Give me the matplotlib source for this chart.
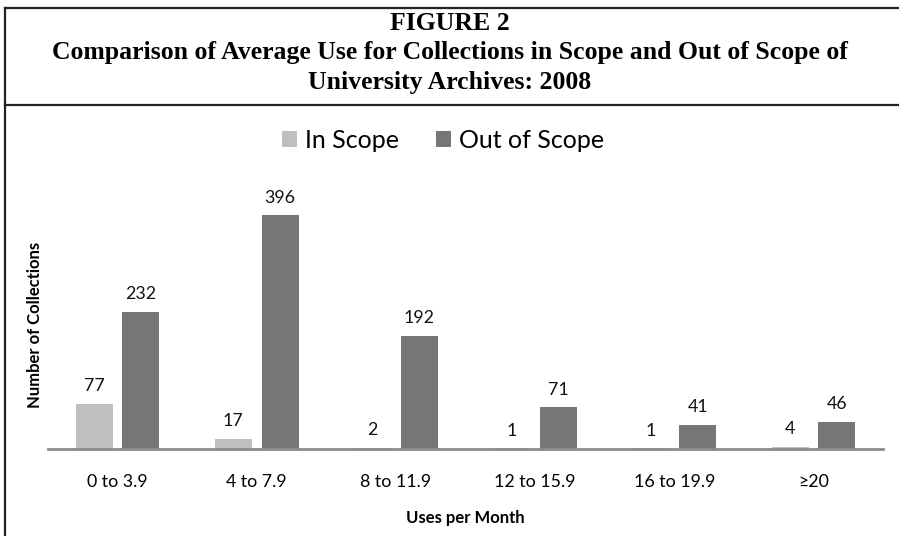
import matplotlib.pyplot as plt
import numpy as np
from matplotlib.lines import Line2D

categories = ['0 to 3.9', '4 to 7.9', '8 to 11.9', '12 to 15.9', '16 to 19.9', '\u226520']
in_scope = [77, 17, 2, 1, 1, 4]
out_scope = [232, 396, 192, 71, 41, 46]

W, H = 899, 536
fig = plt.figure(figsize=(W / 100, H / 100), dpi=100)

sans = ['Lato', 'DejaVu Sans']
serif = ['Liberation Serif', 'DejaVu Serif']

# frame lines of the figure box
lc = '#222222'
fig.add_artist(Line2D([5 / W, 5 / W], [0, 1 - 8 / H], color=lc, lw=1.6))
fig.add_artist(Line2D([5 / W, 1], [1 - 8 / H, 1 - 8 / H], color=lc, lw=1.6))
fig.add_artist(Line2D([5 / W, 1], [1 - 105 / H, 1 - 105 / H], color=lc, lw=1.6))

# title
tkw = dict(ha='center', va='center', fontsize=18.5, fontweight='bold', family=serif)
fig.text(0.5, 1 - 23 / H, 'FIGURE 2', **tkw)
fig.text(0.5, 1 - 53 / H, 'Comparison of Average Use for Collections in Scope and Out of Scope of', **tkw)
fig.text(0.5, 1 - 83 / H, 'University Archives: 2008', **tkw)

ax_left, ax_right, ax_base = 48, 883, 449
ymax = 450
px_per_unit = 234 / 396
ax_h = ymax * px_per_unit
ax = fig.add_axes([ax_left / W, (H - ax_base) / H, (ax_right - ax_left) / W, ax_h / H])

x = np.arange(len(categories))
bw = 0.266
off = 0.168
c_in, c_out = '#bfbfbf', '#767676'
b1 = ax.bar(x - off, in_scope, bw, color=c_in, label='In Scope')
b2 = ax.bar(x + off, out_scope, bw, color=c_out, label='Out of Scope')

for bars, vals in ((b1, in_scope), (b2, out_scope)):
    for r, v in zip(bars, vals):
        ax.text(r.get_x() + r.get_width() / 2, v + 16, str(v), ha='center', va='bottom',
                fontsize=12.8, family=sans, color='#111111')

ax.set_xlim(-0.5, len(categories) - 0.5)
ax.set_ylim(0, ymax)
ax.set_xticks(x)
ax.set_xticklabels(categories, fontsize=12.8, family=sans)
ax.tick_params(axis='x', length=0, pad=18)
ax.set_yticks([])
for s in ('top', 'right', 'left'):
    ax.spines[s].set_visible(False)
ax.spines['bottom'].set_color('#8c8c8c')
ax.spines['bottom'].set_linewidth(2)

fig.text(465 / W, 1 - 518 / H, 'Uses per Month', ha='center', va='center',
         fontsize=12, fontweight='bold', family=sans)
fig.text(35 / W, 1 - 325 / H, 'Number of Collections', ha='center', va='center',
         rotation=90, fontsize=12, fontweight='bold', family=sans)

fig.legend(handles=[b1, b2], loc='center', bbox_to_anchor=(443 / W, 1 - 140 / H),
           ncol=2, frameon=False, prop={'family': sans, 'size': 18},
           handlelength=0.6, handleheight=0.6, handletextpad=0.3, columnspacing=1.5)

fig.savefig('out.png', dpi=100)
